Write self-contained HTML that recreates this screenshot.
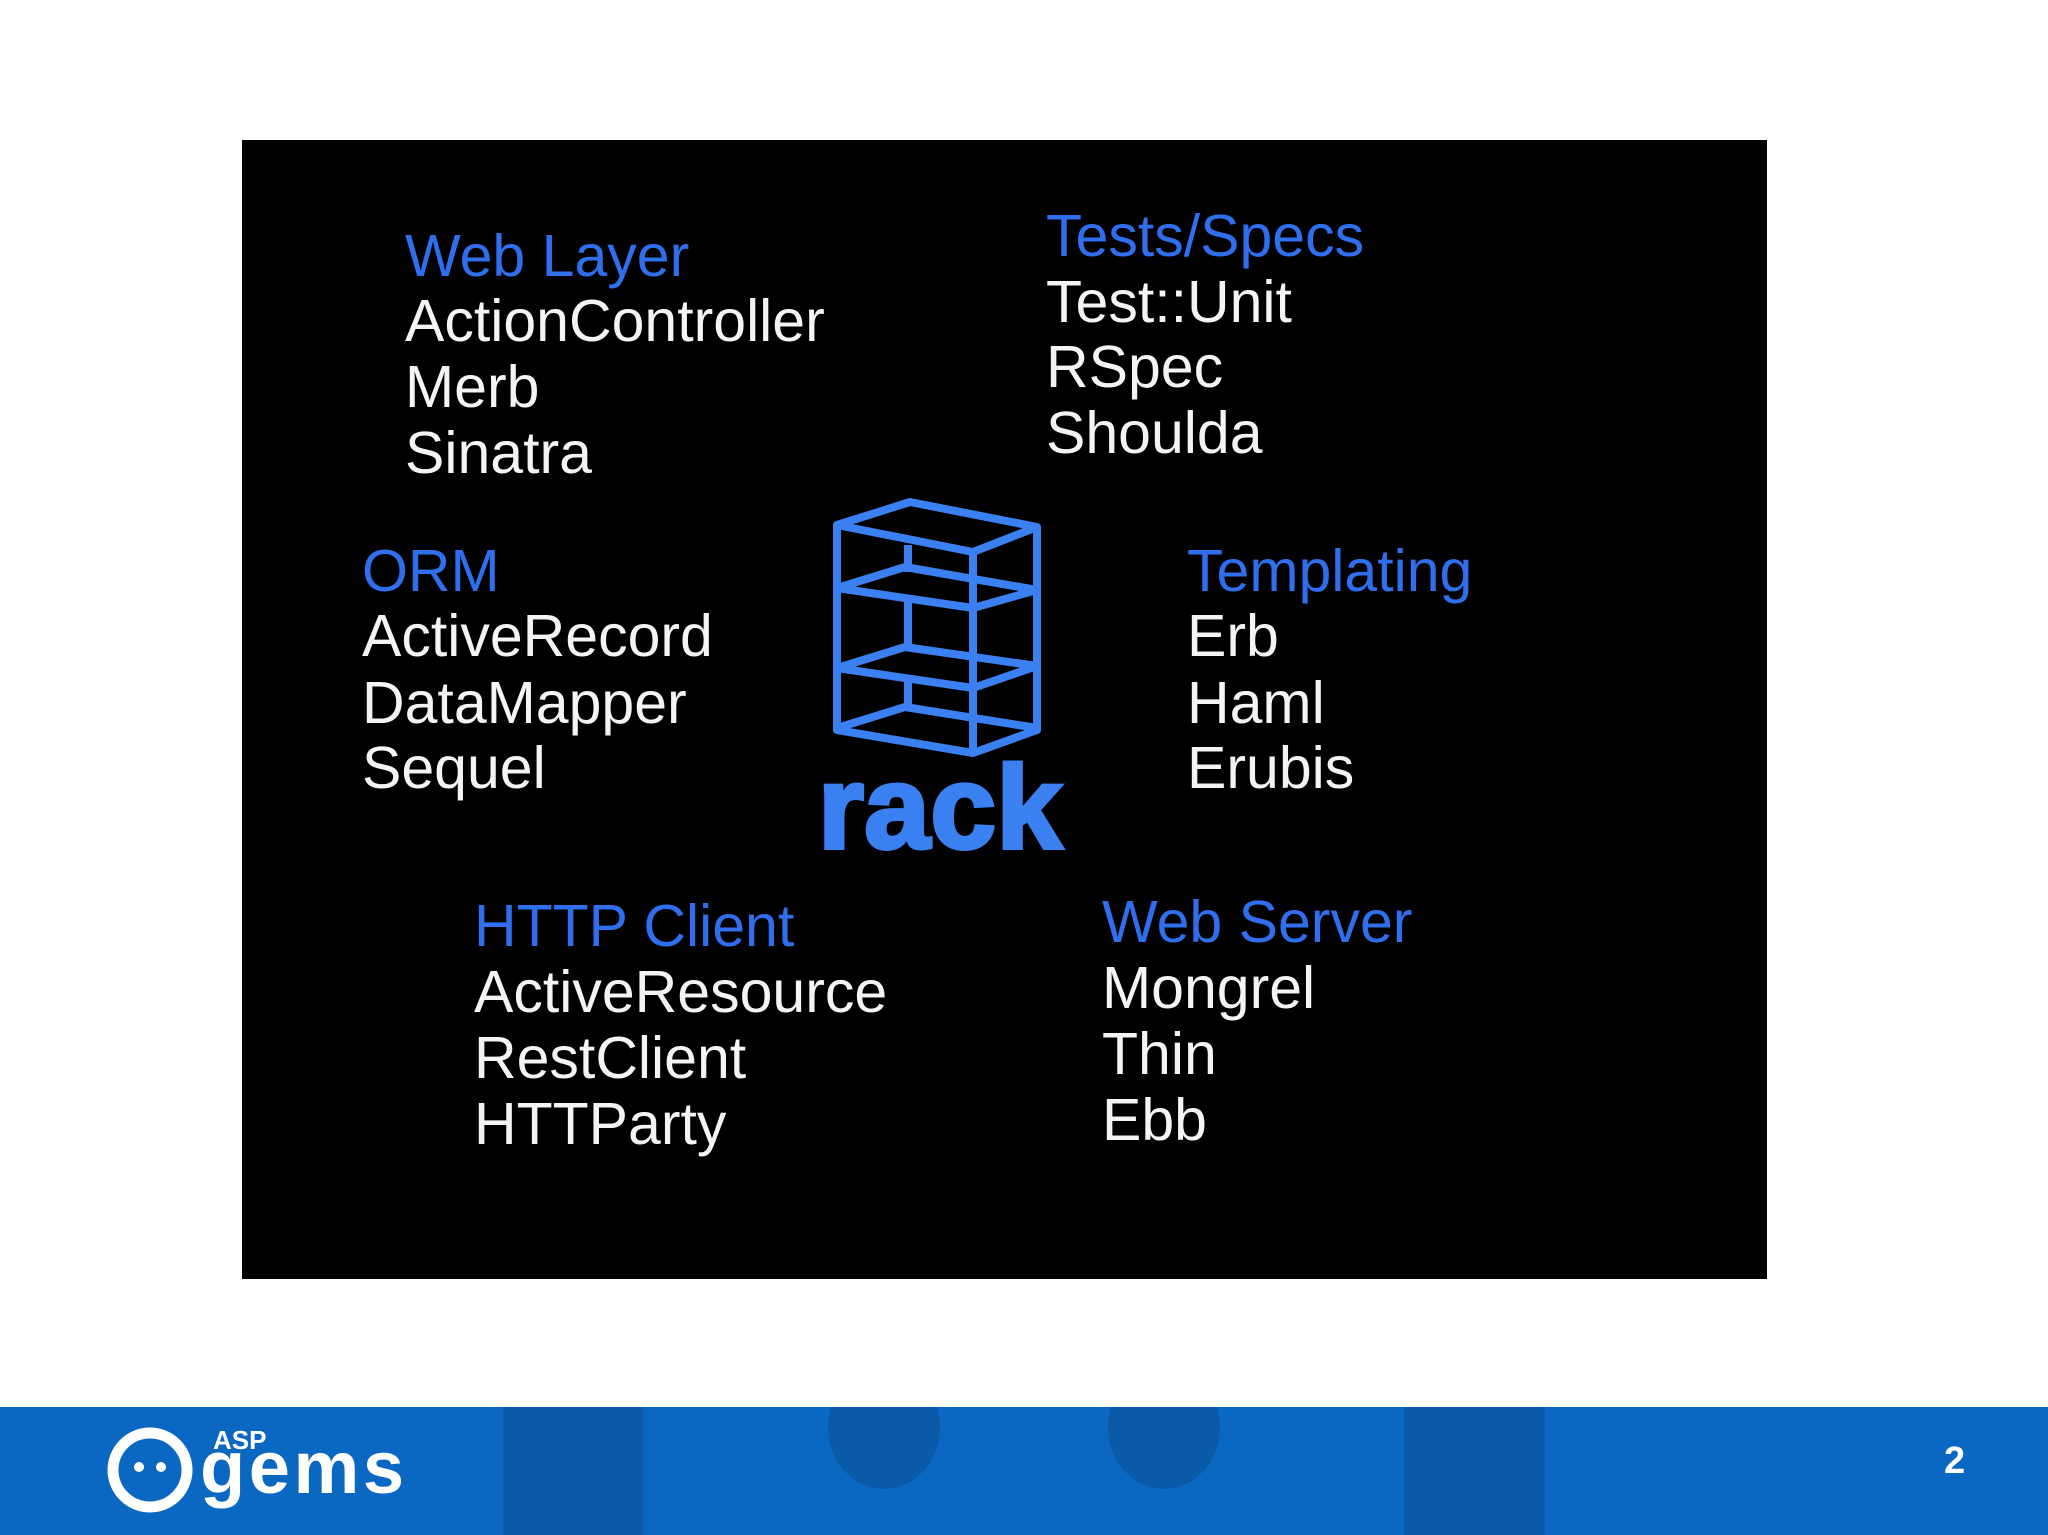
<!DOCTYPE html>
<html><head><meta charset="utf-8"><style>
html,body{margin:0;padding:0;}
body{width:2048px;height:1535px;position:relative;background:#fff;overflow:hidden;font-family:"Liberation Sans",sans-serif;}
#box{position:absolute;left:242px;top:140px;width:1525px;height:1139px;background:#000;}
#foot{position:absolute;left:0;top:1407px;width:2048px;height:128px;background:#0b68c2;overflow:hidden;}
</style></head><body>
<div id="box"></div>
<svg style="position:absolute;left:0;top:0" width="2048" height="1535">
<g font-family="Liberation Sans, sans-serif" font-size="59" fill="#f4f4f4">
<text x="405" y="276" fill="#2f6fee">Web Layer</text>
<text x="405" y="341">ActionController</text>
<text x="405" y="407">Merb</text>
<text x="405" y="473">Sinatra</text>
<text x="1046" y="256" fill="#2f6fee">Tests/Specs</text>
<text x="1046" y="322">Test::Unit</text>
<text x="1046" y="387">RSpec</text>
<text x="1046" y="453">Shoulda</text>
<text x="362" y="591" fill="#2f6fee">ORM</text>
<text x="362" y="656">ActiveRecord</text>
<text x="362" y="723">DataMapper</text>
<text x="362" y="788">Sequel</text>
<text x="1187" y="591" fill="#2f6fee">Templating</text>
<text x="1187" y="656">Erb</text>
<text x="1187" y="723">Haml</text>
<text x="1187" y="788">Erubis</text>
<text x="474" y="946" fill="#2f6fee">HTTP Client</text>
<text x="474" y="1012">ActiveResource</text>
<text x="474" y="1078">RestClient</text>
<text x="474" y="1144">HTTParty</text>
<text x="1102" y="942" fill="#2f6fee">Web Server</text>
<text x="1102" y="1008">Mongrel</text>
<text x="1102" y="1074">Thin</text>
<text x="1102" y="1140">Ebb</text>
</g>
<g stroke="#3a80f0" stroke-width="8" fill="none" stroke-linejoin="round">
<polygon points="837,525 910,502 1037,527 973,552"/>
<polyline points="837,525 837,730 973,753 1037,730 1037,527"/>
<line x1="973" y1="552" x2="973" y2="753"/>
<polyline points="837,588 905,567 1037,590"/><polyline points="837,588 973,608 1037,590"/>
<polyline points="837,668 905,647 1037,666"/><polyline points="837,668 973,688 1037,666"/>
<polyline points="837,728 905,707 1037,728"/>
<line x1="908" y1="545" x2="908" y2="572"/>
<line x1="908" y1="602" x2="908" y2="650"/>
<line x1="908" y1="680" x2="908" y2="710"/>
</g>
<text x="818" y="848" font-family="Liberation Sans, sans-serif" font-weight="bold" font-size="118" fill="#3a80f0" stroke="#3a80f0" stroke-width="4" textLength="244">rack</text>
</svg>
<div id="foot">
<svg width="2048" height="128" style="position:absolute;left:0;top:0">
<rect x="503" y="0" width="140" height="128" fill="#0a5aa8"/>
<rect x="1404" y="0" width="141" height="128" fill="#0a5aa8"/>
<ellipse cx="884" cy="20" rx="56" ry="62" fill="#0a5aa8"/>
<ellipse cx="1164" cy="20" rx="56" ry="62" fill="#0a5aa8"/>
<circle cx="150" cy="63" r="37" stroke="#fff" stroke-width="11" fill="none"/>
<circle cx="139" cy="60" r="5" fill="#fff"/><circle cx="161" cy="60" r="5" fill="#fff"/>
<text x="213" y="42" font-family="Liberation Sans, sans-serif" font-weight="bold" font-size="26" fill="#fff">ASP</text>
<text x="200" y="86" font-family="Liberation Sans, sans-serif" font-weight="bold" font-size="74" fill="#fff" textLength="204">gems</text>
<text x="1944" y="66" font-family="Liberation Sans, sans-serif" font-weight="bold" font-size="38" fill="#fff">2</text>
</svg>
</div>
</body></html>
